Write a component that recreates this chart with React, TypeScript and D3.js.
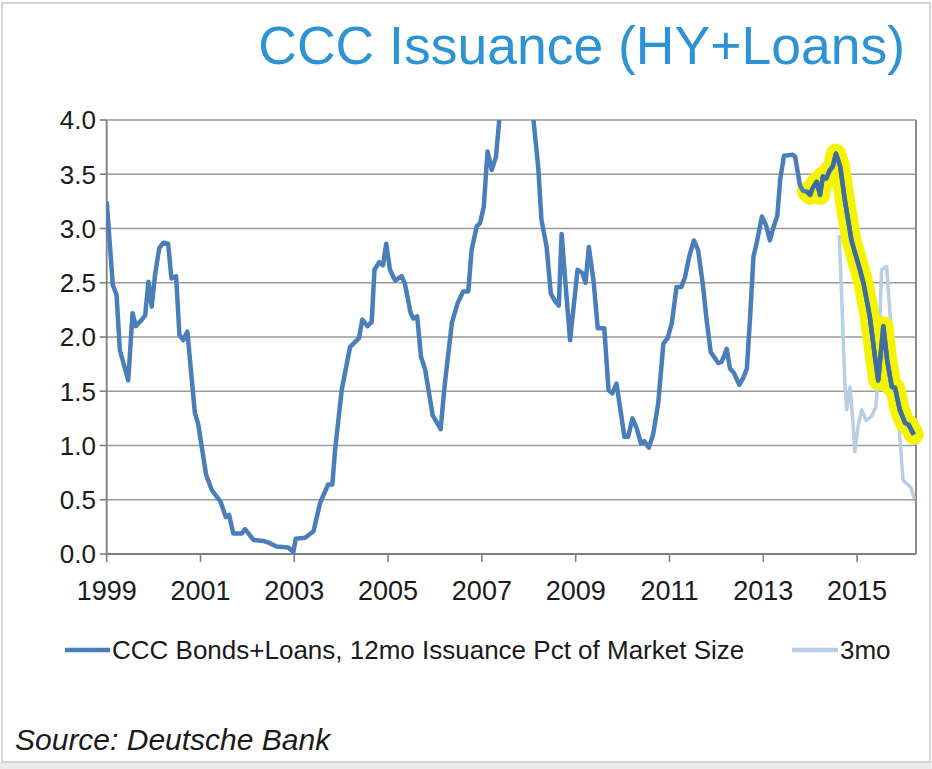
import React from "react";
import * as d3 from "d3";

const mainYears = [
  1999.00, 1999.13, 1999.21, 1999.28, 1999.46, 1999.55, 1999.62, 1999.75, 1999.82, 1999.89, 1999.96,
  2000.03, 2000.12, 2000.21, 2000.31, 2000.38, 2000.48, 2000.55, 2000.63, 2000.72, 2000.88, 2000.95,
  2001.12, 2001.24, 2001.43, 2001.54, 2001.61, 2001.70, 2001.88, 2001.95,
  2002.13, 2002.34, 2002.48, 2002.62, 2002.87, 2002.98,
  2003.03, 2003.23, 2003.41, 2003.55, 2003.72, 2003.81, 2003.87,
  2004.01, 2004.19, 2004.38, 2004.45, 2004.56, 2004.65, 2004.71, 2004.81, 2004.89, 2004.96,
  2005.04, 2005.15, 2005.29, 2005.36, 2005.48, 2005.54, 2005.62, 2005.70, 2005.79, 2005.95,
  2006.12, 2006.21, 2006.36, 2006.48, 2006.60, 2006.71, 2006.78, 2006.89, 2006.96,
  2007.04, 2007.12, 2007.21, 2007.30, 2007.38, 2007.50, 2007.70, 2007.90,
  2008.10, 2008.20, 2008.27, 2008.38, 2008.47, 2008.56, 2008.64, 2008.70, 2008.77, 2008.88,
  2009.04, 2009.14, 2009.21, 2009.28, 2009.38, 2009.47, 2009.61, 2009.70, 2009.78, 2009.87,
  2010.04, 2010.12, 2010.21, 2010.30, 2010.39, 2010.46, 2010.56, 2010.65, 2010.76, 2010.87, 2010.96,
  2011.05, 2011.15, 2011.25, 2011.33, 2011.42, 2011.52, 2011.61, 2011.71, 2011.79, 2011.88,
  2012.04, 2012.11, 2012.22, 2012.29, 2012.37, 2012.49, 2012.57, 2012.65, 2012.72, 2012.79, 2012.87, 2012.97,
  2013.06, 2013.14, 2013.21, 2013.30, 2013.36, 2013.44, 2013.63, 2013.68, 2013.78, 2013.84, 2013.93,
  2014.00, 2014.05, 2014.14, 2014.21, 2014.27, 2014.34, 2014.42, 2014.48, 2014.55, 2014.64, 2014.74, 2014.88,
  2015.06, 2015.14, 2015.27, 2015.38, 2015.45, 2015.56, 2015.64, 2015.74, 2015.81, 2015.91,
  2016.02, 2016.10, 2016.21,
];

const mainValues = [
  3.25, 2.48, 2.39, 1.88, 1.60, 2.22, 2.10, 2.16, 2.20, 2.51, 2.28,
  2.57, 2.82, 2.87, 2.86, 2.54, 2.56, 2.02, 1.97, 2.05, 1.30, 1.20,
  0.73, 0.59, 0.48, 0.34, 0.36, 0.19, 0.19, 0.23,
  0.13, 0.12, 0.10, 0.07, 0.06, 0.02,
  0.14, 0.15, 0.21, 0.47, 0.64, 0.64, 0.96,
  1.51, 1.91, 1.99, 2.16, 2.10, 2.14, 2.62, 2.69, 2.66, 2.86,
  2.62, 2.52, 2.56, 2.49, 2.22, 2.17, 2.19, 1.82, 1.70, 1.28,
  1.15, 1.57, 2.13, 2.31, 2.42, 2.42, 2.80, 3.02, 3.05,
  3.20, 3.71, 3.54, 3.66, 4.05, 4.35, 4.55, 4.40,
  4.00, 3.57, 3.08, 2.83, 2.40, 2.33, 2.29, 2.95, 2.56, 1.97,
  2.62, 2.59, 2.50, 2.83, 2.52, 2.08, 2.08, 1.51, 1.48, 1.57,
  1.08, 1.08, 1.25, 1.16, 1.02, 1.04, 0.98, 1.10, 1.39, 1.94, 1.99,
  2.13, 2.46, 2.46, 2.55, 2.74, 2.89, 2.80, 2.49, 2.16, 1.86,
  1.76, 1.77, 1.89, 1.71, 1.67, 1.56, 1.62, 1.71, 2.19, 2.74, 2.89, 3.11,
  3.03, 2.89, 3.00, 3.12, 3.45, 3.67, 3.68, 3.66, 3.40, 3.35, 3.34,
  3.31, 3.37, 3.43, 3.31, 3.48, 3.46, 3.54, 3.57, 3.69, 3.57, 3.26, 2.89,
  2.62, 2.49, 2.19, 1.82, 1.60, 2.10, 1.79, 1.54, 1.53, 1.33,
  1.21, 1.19, 1.10,
];

const threeMoYears = [
  2014.62, 2014.67, 2014.74, 2014.78, 2014.85, 2014.91, 2014.95, 2015.03, 2015.10, 2015.19,
  2015.31, 2015.40, 2015.45, 2015.52, 2015.63, 2015.70, 2015.79, 2015.88, 2015.91, 2015.98,
  2016.08, 2016.15, 2016.22,
];
const threeMoValues = [
  2.94, 2.37, 1.57, 1.33, 1.54, 1.23, 0.94, 1.20, 1.33, 1.23,
  1.27, 1.36, 1.63, 2.62, 2.65, 2.22, 1.76, 1.33, 1.08, 0.68,
  0.64, 0.61, 0.51,
];

const xTickYears = [1999, 2001, 2003, 2005, 2007, 2009, 2011, 2013, 2015];
const yTickValues = [0, 0.5, 1, 1.5, 2, 2.5, 3, 3.5, 4];
const highlightStart = 2013.9;

const titleText = "CCC Issuance (HY+Loans)";
const legendMain = "CCC Bonds+Loans, 12mo Issuance Pct of Market Size";
const legend3mo = "3mo";
const sourceText = "Source: Deutsche Bank";

const W = 932;
const H = 769;
const plot = { left: 106.7, right: 916, top: 120, bottom: 554 };

export default function App() {
  const x = d3.scaleLinear().domain([1999, 2016.256]).range([plot.left, plot.right]);
  const y = d3.scaleLinear().domain([0, 4]).range([plot.bottom, plot.top]);

  const mainData = mainYears.map((yr, i) => ({ yr, v: mainValues[i] }));
  const threeData = threeMoYears.map((yr, i) => ({ yr, v: threeMoValues[i] }));
  const hiData = mainData.filter((d) => d.yr >= highlightStart);

  const line = d3
    .line<{ yr: number; v: number }>()
    .x((d) => x(d.yr))
    .y((d) => y(d.v));

  const font = "'Liberation Sans', Arial, sans-serif";
  const gridColor = "#9a9a9a";
  const mainColor = "#4a7ebb";
  const lightColor = "#b9cde5";

  return (
    <svg
      width={W}
      height={H}
      viewBox={`0 0 ${W} ${H}`}
      style={{ position: "absolute", left: 0, top: 0, display: "block", background: "#fff" }}
    >
      <defs>
        <clipPath id="plotClip">
          <rect x={plot.left} y={plot.top} width={plot.right - plot.left + 10} height={plot.bottom - plot.top} />
        </clipPath>
      </defs>
      <rect x={0} y={0} width={W} height={H} fill="#fff" />
      <rect x={0} y={762} width={W} height={H - 762} fill="#ececec" />
      <rect x={2} y={3} width={W - 4} height={759} fill="none" stroke="#c9c9c9" strokeWidth={1.5} />

      <text
        x={905}
        y={64}
        textAnchor="end"
        fontFamily={font}
        fontSize={53.5}
        fill="#2d93d4"
      >
        {titleText}
      </text>

      {yTickValues.map((v) => (
        <g key={"gy" + v}>
          <line x1={plot.left} x2={plot.right} y1={y(v)} y2={y(v)} stroke={gridColor} strokeWidth={1.6} />
          <line x1={plot.left - 7} x2={plot.left} y1={y(v)} y2={y(v)} stroke="#7f7f7f" strokeWidth={1.6} />
          <text
            x={96}
            y={y(v)}
            dy="0.36em"
            textAnchor="end"
            fontFamily={font}
            fontSize={26}
            fill="#1a1a1a"
          >
            {v.toFixed(1)}
          </text>
        </g>
      ))}
      <line x1={plot.left} x2={plot.left} y1={plot.top} y2={plot.bottom} stroke="#7f7f7f" strokeWidth={1.8} />
      <line x1={plot.right} x2={plot.right} y1={plot.top} y2={plot.bottom} stroke="#7f7f7f" strokeWidth={1.8} />
      <line x1={plot.left} x2={plot.right} y1={plot.bottom} y2={plot.bottom} stroke="#7f7f7f" strokeWidth={1.8} />

      {xTickYears.map((yr) => (
        <g key={"gx" + yr}>
          <line x1={x(yr)} x2={x(yr)} y1={plot.bottom} y2={plot.bottom + 8} stroke="#7f7f7f" strokeWidth={1.6} />
          <text
            x={x(yr)}
            y={600}
            textAnchor="middle"
            fontFamily={font}
            fontSize={27}
            fill="#1a1a1a"
          >
            {yr}
          </text>
        </g>
      ))}

      <g clipPath="url(#plotClip)">
        <path d={line(threeData) || ""} fill="none" stroke={lightColor} strokeWidth={3.5} strokeLinejoin="round" />
        <path
          d={line(hiData) || ""}
          fill="none"
          stroke="#f4f400"
          strokeWidth={20}
          strokeLinejoin="round"
          strokeLinecap="round"
        />
        <path d={line(mainData) || ""} fill="none" stroke={mainColor} strokeWidth={4.5} strokeLinejoin="round" />
        <path d={line(hiData) || ""} fill="none" stroke="#3e6d9e" strokeWidth={4.5} strokeLinejoin="round" />
      </g>

      <line x1={65} x2={110} y1={650} y2={650} stroke={mainColor} strokeWidth={4.5} />
      <text x={112} y={650} dy="0.36em" fontFamily={font} fontSize={26} fill="#1a1a1a">
        {legendMain}
      </text>
      <line x1={792} x2={838} y1={650} y2={650} stroke={lightColor} strokeWidth={4.5} />
      <text x={840} y={650} dy="0.36em" fontFamily={font} fontSize={26} fill="#1a1a1a">
        {legend3mo}
      </text>

      <text x={15} y={750} fontFamily={font} fontSize={30} fontStyle="italic" fill="#1a1a1a">
        {sourceText}
      </text>
    </svg>
  );
}
